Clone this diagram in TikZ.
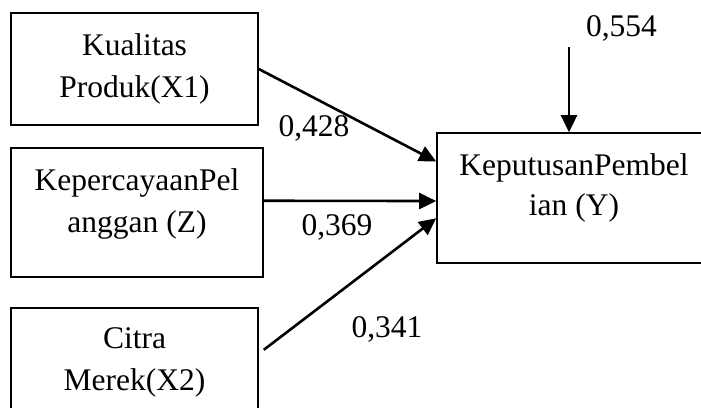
\documentclass[tikz,border=0pt]{standalone}
\usepackage{fontspec}
\setmainfont{Liberation Serif}
\usetikzlibrary{arrows.meta,calc}
\tikzset{
  varbox/.style={draw, line width=1.6pt, rectangle, inner sep=0pt},
  txt/.style={anchor=base, inner sep=0pt, font=\fontsize{31.5}{42}\selectfont},
  arr/.style={line width=2.6pt, -{Triangle[length=17pt,width=16pt]}}
}
\begin{document}
\begin{tikzpicture}[x=1pt,y=-1pt]
\useasboundingbox (0,0) rectangle (701,407);
\clip (0,0) rectangle (701,407);
% variable boxes
\node[varbox, minimum width=247pt, minimum height=112pt] (x1) at (134.5,69) {};
\node[varbox, minimum width=252pt, minimum height=129pt] (z) at (137,212.5) {};
\node[varbox, minimum width=247pt, minimum height=129pt] (x2) at (134.5,372.5) {};
\node[varbox, minimum width=273pt, minimum height=130pt] (y) at (573.5,198) {};
% box texts
\node[txt] (x1a) at (134.5,55) {Kualitas};
\node[txt] (x1b) at (134.5,97) {Produk(X1)};
\node[txt] (za) at (137,190) {KepercayaanPel};
\node[txt] (zb) at (137,232) {anggan (Z)};
\node[txt] (x2a) at (134.5,348) {Citra};
\node[txt] (x2b) at (134.5,390) {Merek(X2)};
\node[txt] (ya) at (574,175) {KeputusanPembel};
\node[txt] (yb) at (574,215) {ian (Y)};
% paths
\coordinate (e) at (569,47);
\draw[arr] (e) -- (e |- y.north);
\draw[arr] (x1.east) -- ($(y.north west)!0.223!(y.south west)$);
\draw[arr] ($(z.north east)!0.41!(z.south east)$) -- ($(y.north west)!0.523!(y.south west)$);
\draw[arr] ($(x2.north east)!0.326!(x2.south east)+(5,0)$) -- ($(y.north west)!0.654!(y.south west)$);
% coefficients
\node[txt] (c0) at (621.5,36) {0,554};
\node[txt] (c1) at (314,136) {0,428};
\node[txt] (c2) at (337,235) {0,369};
\node[txt] (c3) at (387,337) {0,341};
\end{tikzpicture}
\end{document}
